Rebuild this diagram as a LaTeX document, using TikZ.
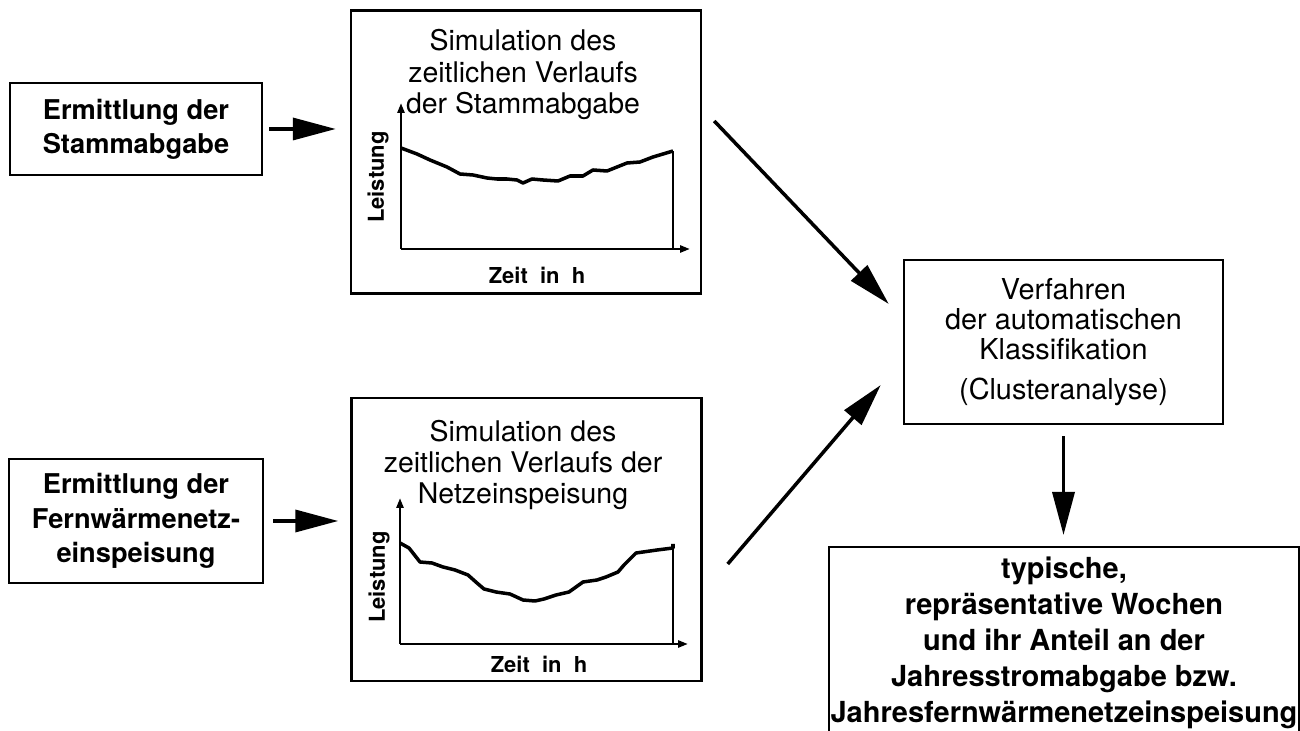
\documentclass[tikz,border=0pt]{standalone}
\usepackage{fontspec}
\setmainfont{TeX Gyre Heros}
\usetikzlibrary{positioning}
\usetikzlibrary{arrows.meta}

\tikzset{
  box/.style={draw, line width=1.4pt, inner sep=0pt, align=center},
  inbox/.style={box, font=\fontsize{15.5}{19.5}\selectfont\bfseries},
  simbox/.style={box, minimum width=7cm, minimum height=5.66cm},
  simtitle/.style={align=center, inner sep=0pt, font=\fontsize{16.2}{17.9}\selectfont},
  axislabel/.style={inner sep=0pt, font=\fontsize{12.5}{14}\selectfont\bfseries},
  bigarrow/.style={line width=2pt, -{Triangle[length=0.86cm,width=0.44cm]}},
  plotaxis/.style={line width=1.4pt, -{Triangle[length=0.2cm,width=0.14cm]}},
  loadcurve/.style={line width=2pt, line join=round},
}

\begin{document}
\begin{tikzpicture}
  \useasboundingbox (0,0) rectangle (26,-14.62);
  \clip (0,0) rectangle (26,-14.62);

  % Inputs
  \node[inbox, minimum width=5.04cm, minimum height=1.84cm] (ermA) at (2.72,-2.58) {Ermittlung der\\Stammabgabe};
  \node[inbox, minimum width=5.08cm, minimum height=2.48cm] (ermB) at (2.72,-10.42) {Ermittlung der\\Fernwärmenetz-\\einspeisung};

  % Simulation boxes
  \node[simbox] (simA) at (10.52,-3.04) {};
  \node[simbox] (simB) at (10.53,-10.79) {};
  \node[simtitle] (simAtitle) at (10.46,-1.49) {Simulation des\\zeitlichen Verlaufs\\der Stammabgabe};
  \node[simtitle] (simBtitle) at (10.46,-9.3) {Simulation des\\zeitlichen Verlaufs der\\Netzeinspeisung};

  % Plot of Stammabgabe
  \draw[plotaxis] (8.02,-4.98) -- (8.02,-2.06);
  \draw[plotaxis] (8.02,-4.98) -- (13.8,-4.98);
  \draw[loadcurve] (8.02,-2.96) -- (8.34,-3.08) -- (8.60,-3.20) -- (8.94,-3.34)
    -- (9.20,-3.48) -- (9.46,-3.50) -- (9.74,-3.56) -- (9.94,-3.58) -- (10.14,-3.58)
    -- (10.34,-3.60) -- (10.46,-3.66) -- (10.64,-3.58) -- (10.86,-3.60) -- (11.16,-3.62)
    -- (11.40,-3.52) -- (11.66,-3.52) -- (11.86,-3.40) -- (12.14,-3.42) -- (12.34,-3.34)
    -- (12.54,-3.26) -- (12.80,-3.24) -- (13.06,-3.14) -- (13.26,-3.08) -- (13.46,-3.02);
  \draw[line width=1.4pt] (13.46,-3.02) -- (13.46,-4.98);
  \node[axislabel, rotate=90] (leistA) at (7.56,-3.54) {Leistung};
  \node[axislabel] (zeitA) at (10.74,-5.5) {Zeit\ \ in\ \ h};

  % Plot of Netzeinspeisung
  \draw[plotaxis] (8.0,-12.88) -- (8.0,-9.96);
  \draw[plotaxis] (8.0,-12.88) -- (13.76,-12.88);
  \draw[loadcurve] (8.00,-10.86) -- (8.18,-10.96) -- (8.40,-11.24) -- (8.64,-11.26)
    -- (8.86,-11.34) -- (9.10,-11.40) -- (9.36,-11.50) -- (9.54,-11.66) -- (9.68,-11.78)
    -- (9.92,-11.84) -- (10.20,-11.88) -- (10.46,-12.00) -- (10.70,-12.02) -- (10.88,-11.98)
    -- (11.12,-11.90) -- (11.38,-11.84) -- (11.52,-11.74) -- (11.66,-11.64) -- (11.94,-11.60)
    -- (12.12,-11.54) -- (12.36,-11.44) -- (12.48,-11.30) -- (12.72,-11.06) -- (12.86,-11.04)
    -- (13.14,-11.00) -- (13.46,-10.96) -- (13.46,-10.88);
  \draw[line width=1.4pt] (13.46,-10.88) -- (13.46,-12.88);
  \node[axislabel, rotate=90] (leistB) at (7.58,-11.54) {Leistung};
  \node[axislabel] (zeitB) at (10.78,-13.28) {Zeit\ \ in\ \ h};

  % Classification and result
  \node[box, minimum width=6.38cm, minimum height=3.28cm, font=\fontsize{16.4}{17.1}\selectfont] (klass) at (21.27,-6.84)
    {Verfahren\\der automatischen\\Klassifikation\\[6pt](Clusteranalyse)};
  \node[box, minimum width=9.4cm, minimum height=3.82cm, font=\fontsize{16.5}{20.5}\selectfont\bfseries, anchor=north] (typ) at (21.28,-10.92)
    {typische,\\repräsentative Wochen\\und ihr Anteil an der\\Jahresstromabgabe bzw.\\Jahresfernwärmenetzeinspeisung};

  % Arrows
  \draw[bigarrow, shorten <=0.12cm, shorten >=0.28cm] (ermA.east) -- (ermA.east -| simA.west);
  \draw[bigarrow, shorten <=0.18cm, shorten >=0.24cm] (ermB.east) -- (ermB.east -| simB.west);
  \draw[bigarrow] ([shift={(0.24,0.62)}]simA.east) -- ([shift={(-0.28,0.76)}]klass.west);
  \draw[bigarrow] ([shift={(0.5,-0.49)}]simB.east) -- ([shift={(-0.44,-0.86)}]klass.west);
  \draw[bigarrow, shorten <=0.22cm, shorten >=0.22cm] (klass.south) -- (klass.south |- typ.north);
\end{tikzpicture}
\end{document}
